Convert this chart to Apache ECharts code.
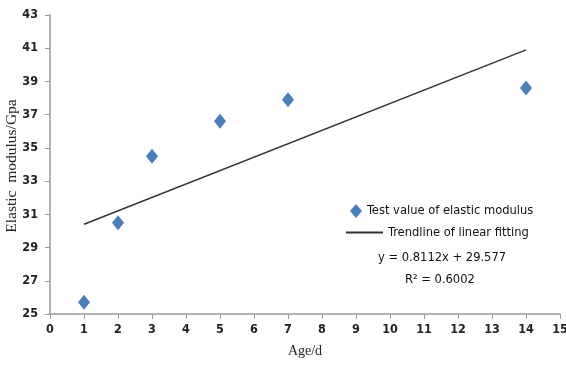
<!DOCTYPE html>
<html><head><meta charset="utf-8">
<script src="https://cdn.jsdelivr.net/npm/echarts@6/dist/echarts.min.js"></script>
<style>html,body{margin:0;padding:0;background:#fff}#c{width:566px;height:378px}</style>
</head><body><div id="c"></div>
<script>
const ages = [1, 2, 3, 5, 7, 14];
const modulus = [25.7, 30.5, 34.5, 36.6, 37.9, 38.6];
const trendAges = [1, 14];
const trendValues = [30.4, 40.9];
const xTicks = [0,1,2,3,4,5,6,7,8,9,10,11,12,13,14,15];
const yTicks = [25,27,29,31,33,35,37,39,41,43];
const yAxisTitle = 'Elastic  modulus/Gpa';
const equationText = 'y = 0.8112x + 29.577';
const r2Text = 'R² = 0.6002';

const chart = echarts.init(document.getElementById('c'));
const tickFont = {fontFamily: 'DejaVu Sans Condensed', fontSize: 12.5, color: '#222', fontWeight: 'bold'};
const legFont = {fontFamily: 'DejaVu Sans Condensed', fontSize: 12.8, color: '#111'};
chart.setOption({
  animation: false,
  grid: {left: 50, right: 6, top: 15, bottom: 64, containLabel: false, outerBoundsMode: 'none'},
  xAxis: {
    type: 'value', min: 0, max: 15, interval: 1,
    name: 'Age/d', nameLocation: 'middle', nameGap: 30,
    nameTextStyle: {fontFamily: 'Liberation Serif', fontSize: 14, color: '#222'},
    axisLine: {lineStyle: {color: '#999', width: 1.5}},
    axisTick: {show: true, length: 5, lineStyle: {color: '#999'}},
    axisLabel: Object.assign({margin: 9}, tickFont),
    splitLine: {show: false}
  },
  yAxis: {
    type: 'value', min: 25, max: 43, interval: 2,
    axisLine: {show: true, lineStyle: {color: '#999', width: 1.5}},
    axisTick: {show: true, length: 5, lineStyle: {color: '#999'}},
    axisLabel: Object.assign({margin: 12}, tickFont),
    splitLine: {show: false}
  },
  legend: [{
    data: [{name: 'Test value of elastic modulus', icon: 'diamond'}],
    left: 345, top: 199, itemWidth: 12, itemHeight: 14, itemGap: 13,
    textStyle: legFont
  }, {
    data: [{name: 'Trendline of linear fitting', icon: 'rect', itemStyle: {color: '#333'}}],
    left: 341, top: 221, itemWidth: 37, itemHeight: 2, itemGap: 5,
    textStyle: legFont
  }],
  graphic: [
    {type: 'text', x: 12, y: 166, rotation: Math.PI / 2,
     style: {text: yAxisTitle, font: '15.5px "Liberation Serif"', fill: '#222', align: 'center', verticalAlign: 'middle'}},
    {type: 'text', left: 378, top: 251, style: {text: equationText, font: '12.8px "DejaVu Sans Condensed"', fill: '#111'}},
    {type: 'text', left: 405, top: 273, style: {text: r2Text, font: '12.8px "DejaVu Sans Condensed"', fill: '#111'}}
  ],
  series: [{
    name: 'Test value of elastic modulus', type: 'scatter',
    symbol: 'diamond', symbolSize: [12, 15],
    itemStyle: {color: '#4a7ebb', opacity: 1},
    data: ages.map((a, i) => [a, modulus[i]])
  }, {
    name: 'Trendline of linear fitting', type: 'line',
    showSymbol: false, symbol: 'none',
    lineStyle: {color: '#333', width: 1.5},
    itemStyle: {color: '#333'},
    data: trendAges.map((a, i) => [a, trendValues[i]])
  }]
});
</script></body></html>
